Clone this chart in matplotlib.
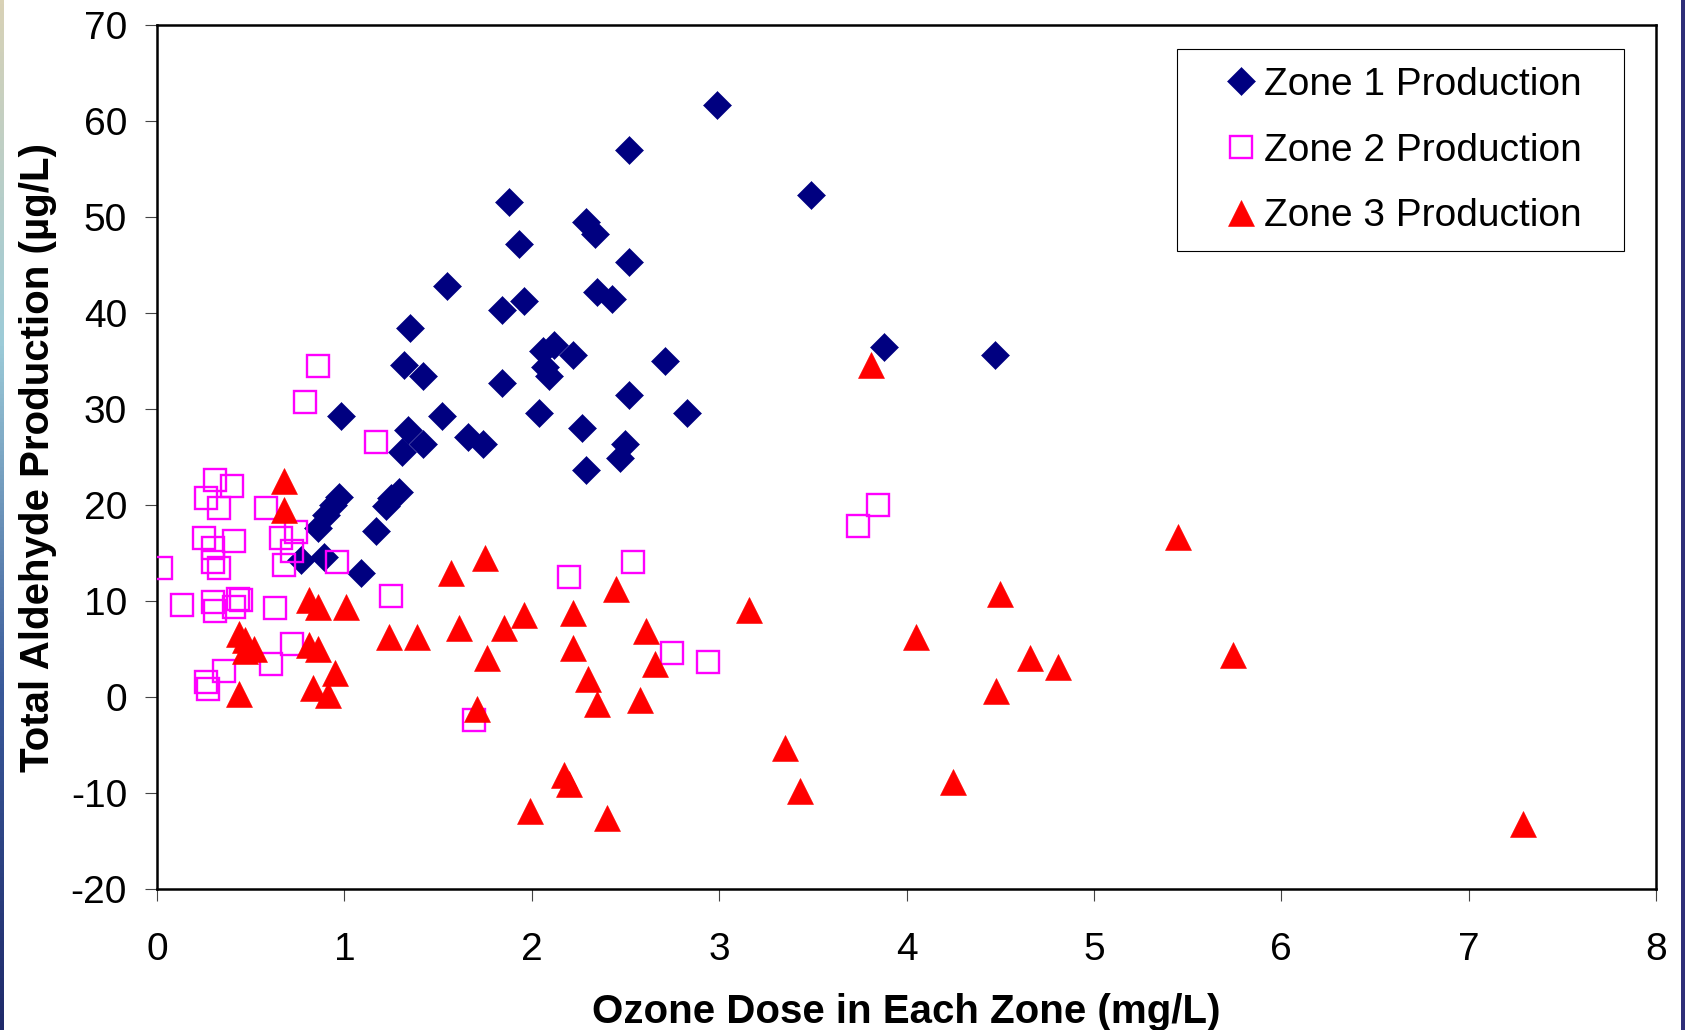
import numpy as np
import matplotlib
matplotlib.use("Agg")
import matplotlib.pyplot as plt
from matplotlib.patches import Rectangle
from matplotlib.colors import LinearSegmentedColormap

plt.rcParams['font.family'] = ['Liberation Sans', 'DejaVu Sans']

# ---- data ----
zone1_x = [2.99, 2.52, 3.49, 1.88, 2.29, 2.34, 1.93, 2.52, 1.55, 2.35,
           2.43, 1.96, 1.84, 1.35, 3.88, 4.47, 2.12, 2.06, 2.22, 2.71,
           1.32, 2.07, 2.09, 1.42, 1.84, 2.52, 0.98, 1.52, 2.04, 2.83,
           2.27, 1.34, 1.66, 1.74, 1.42, 2.50, 1.31, 2.47, 2.29, 1.29,
           1.25, 1.22, 0.97, 0.94, 0.90, 0.86, 1.17, 0.77, 0.89, 1.09]
zone1_y = [61.7, 57.0, 52.3, 51.6, 49.5, 48.2, 47.2, 45.3, 42.8, 42.2,
           41.5, 41.2, 40.3, 38.4, 36.5, 35.6, 36.7, 36.0, 35.6, 35.0,
           34.6, 34.4, 33.4, 33.4, 32.7, 31.5, 29.3, 29.3, 29.6, 29.6,
           28.0, 27.8, 27.1, 26.4, 26.4, 26.4, 25.5, 24.9, 23.6, 21.4,
           20.7, 19.9, 20.8, 20.0, 19.0, 17.6, 17.3, 14.3, 14.6, 12.9]

zone2_x = [0.02, 0.135, 0.26, 0.25, 0.30, 0.30, 0.33, 0.31, 0.40, 0.33,
           0.41, 0.30, 0.31, 0.43, 0.45, 0.41, 0.58, 0.66, 0.74, 0.72,
           0.68, 0.63, 0.72, 0.61, 0.36, 0.26, 0.27, 0.79, 0.86, 0.96,
           1.17, 1.25, 1.69, 2.20, 2.54, 2.75, 2.94, 3.74, 3.85]
zone2_y = [13.4, 9.6, 20.7, 16.6, 15.5, 14.1, 13.4, 22.6, 22.0, 19.7,
           16.2, 9.9, 9.0, 10.2, 10.1, 9.4, 19.7, 16.6, 17.2, 15.2,
           13.7, 9.3, 5.5, 3.4, 2.7, 1.6, 0.8, 30.7, 34.5, 14.1,
           26.6, 10.5, -2.4, 12.5, 14.1, 4.6, 3.6, 17.8, 20.0]

zone3_x = [0.68, 0.68, 0.81, 0.86, 1.01, 1.57, 1.75, 0.44, 0.47, 0.52,
           0.47, 0.81, 0.86, 1.24, 1.39, 1.61, 1.85, 1.76, 0.95, 0.44,
           0.83, 0.91, 1.71, 2.45, 3.16, 1.96, 2.22, 2.61, 2.22, 2.66,
           2.30, 2.35, 2.58, 2.17, 2.20, 1.99, 2.40, 3.35, 3.43, 3.81,
           5.45, 4.50, 4.05, 4.66, 4.81, 5.74, 4.48, 4.25, 7.29]
zone3_y = [22.5, 19.5, 10.1, 9.4, 9.4, 12.9, 14.5, 6.6, 5.9, 5.0,
           4.8, 5.4, 5.0, 6.3, 6.3, 7.2, 7.2, 4.05, 2.5, 0.3,
           0.9, 0.2, -1.3, 11.3, 9.1, 8.5, 8.8, 6.9, 5.1, 3.4,
           1.9, -0.7, -0.3, -8.1, -9.1, -11.9, -12.6, -5.35, -9.8, 34.6,
           16.7, 10.7, 6.3, 4.1, 3.15, 4.4, 0.6, -8.9, -13.2]

series_labels = ["Zone 1 Production", "Zone 2 Production", "Zone 3 Production"]
x_ticks = [0, 1, 2, 3, 4, 5, 6, 7, 8]
y_ticks = [-20, -10, 0, 10, 20, 30, 40, 50, 60, 70]
x_label = "Ozone Dose in Each Zone (mg/L)"
y_label = "Total Aldehyde Production (\u00b5g/L)"

# ---- figure ----
W, H = 1685, 1030
fig = plt.figure(figsize=(W / 100, H / 100), dpi=100)
fig.patch.set_facecolor('white')

ax = fig.add_axes([157 / W, 1 - 889 / H, (1656 - 157) / W, (889 - 25) / H])

ax.plot(zone1_x, zone1_y, linestyle='none', marker='D', markersize=13.9,
        markerfacecolor='#000080', markeredgecolor='#000080', markeredgewidth=0.4,
        label=series_labels[0], zorder=3)
ax.plot(zone2_x, zone2_y, linestyle='none', marker='s', markersize=15.6,
        markerfacecolor='none', markeredgecolor='#FF00FF', markeredgewidth=1.7,
        label=series_labels[1], zorder=4)
ax.plot(zone3_x, zone3_y, linestyle='none', marker='^', markersize=19,
        markerfacecolor='#FF0000', markeredgecolor='#FF0000', markeredgewidth=0.4,
        label=series_labels[2], zorder=5)

ax.set_xlim(0, 8)
ax.set_ylim(-20, 70)
ax.set_xticks(x_ticks)
ax.set_yticks(y_ticks)
ax.set_xticklabels([str(v) for v in x_ticks])
ax.set_yticklabels([str(v) for v in y_ticks])

for s in ax.spines.values():
    s.set_linewidth(1.8)
    s.set_color('black')

ax.tick_params(axis='both', direction='out', length=8.6, width=0.8,
               color='#444444', labelsize=28, labelcolor='black')
ax.tick_params(axis='y', pad=13)
ax.tick_params(axis='x', pad=22)

ax.set_xlabel(x_label, fontsize=29, fontweight='bold', va='baseline')
ax.xaxis.set_label_coords(0.5, (889 - 1023) / 864)
ax.set_ylabel(y_label, fontsize=29, fontweight='bold', va='baseline')
ax.yaxis.set_label_coords((49 - 157) / 1499, 0.5)

# legend
leg = ax.legend(loc='center left', bbox_to_anchor=((1217.7 - 157) / 1499, (889 - 150.5) / 864),
                frameon=False, fontsize=28, borderpad=0, borderaxespad=0,
                handlelength=1.2, handletextpad=0.0, labelspacing=0.77, numpoints=1)
ax.add_patch(Rectangle((0.6806, 0.7384), 0.2982, 0.2335, transform=ax.transAxes,
                       fill=False, edgecolor='black', linewidth=0.8, zorder=6,
                       clip_on=False))

# decorative slide edge strips
cmap = LinearSegmentedColormap.from_list('edge', ['#d9d2b6', '#9ccbd8', '#3a5a9a', '#1f2a6a'])
eax = fig.add_axes([0, 0, 3 / W, 1])
eax.imshow(np.linspace(0, 1, 256).reshape(-1, 1), aspect='auto', cmap=cmap)
eax.set_axis_off()
fig.patches.append(Rectangle((1681 / W, 0), 4 / W, 1, transform=fig.transFigure,
                             facecolor='#2e2e78', edgecolor='none'))

fig.savefig('out.png', dpi=100, facecolor='white')
